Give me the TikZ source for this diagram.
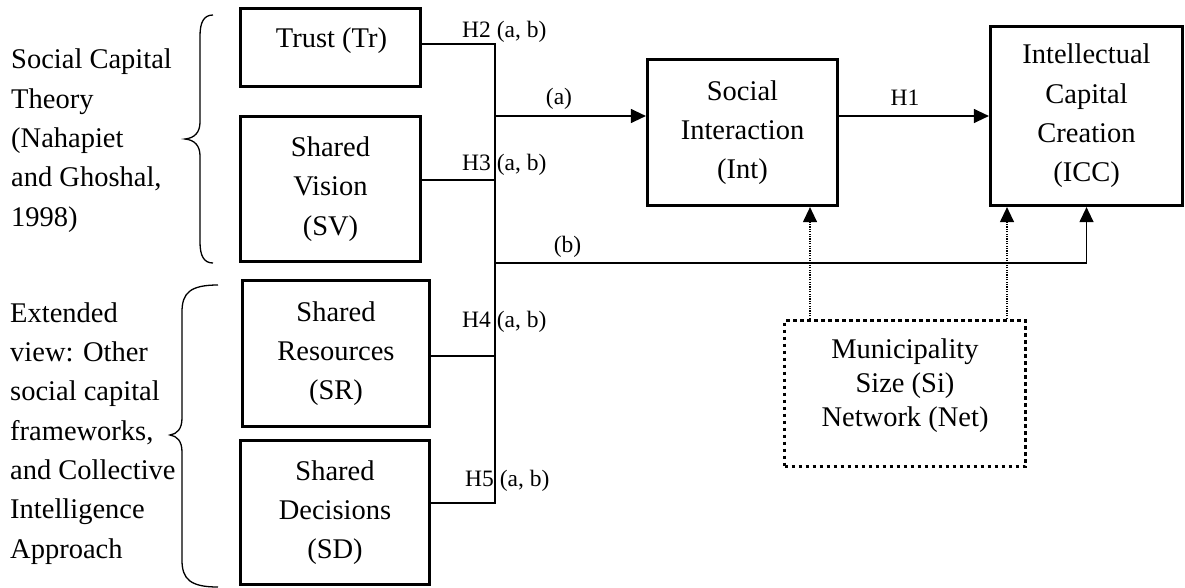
\documentclass[tikz,border=0pt]{standalone}
\usepackage{fontspec}
\setmainfont{Liberation Serif}
\usetikzlibrary{arrows.meta}
\newcommand\myBig{\fontsize{28.5}{39.3}\selectfont}
\newcommand\myMid{\fontsize{28.5}{34}\selectfont}
\newcommand\mySmall{\fontsize{23.5}{26}\selectfont}
\begin{document}
\begin{tikzpicture}[x=1pt,y=-1pt,
  box/.style={draw, line width=3.2pt, inner sep=0pt, align=center, font=\myBig},
  dotbox/.style={draw, line width=3.4pt, dash pattern=on 3.4pt off 3.6pt, inner sep=0pt},
  conn/.style={line width=1.2pt},
  arr/.style={conn, -{Triangle[length=15pt,width=14pt]}},
  dotarr/.style={line width=1.2pt, dash pattern=on 1.2pt off 1.2pt, -{Triangle[length=15pt,width=14pt]}},
  lab/.style={font=\mySmall, inner sep=0pt},
  side/.style={font=\myBig, align=left, inner sep=0pt},
  bracestyle/.style={line width=1.3pt}]
\useasboundingbox (0,0) rectangle (1185,587);

% boxes
\node[box, minimum width=180pt, minimum height=78pt] (tr) at (330.5,47.5) {};
\node[font=\myBig, anchor=base, inner sep=0pt] (trt) at (331.5,47) {Trust (Tr)};
\node[box, minimum width=180pt, minimum height=145pt] (sv) at (330.5,189) {Shared\\Vision\\(SV)};
\node[box, minimum width=187pt, minimum height=146pt] (sr) at (336,353.5) {Shared\\Resources\\(SR)};
\node[box, minimum width=189pt, minimum height=144pt] (sd) at (335,512.5) {Shared\\Decisions\\(SD)};
\node[box, minimum width=190pt, minimum height=146pt] (int) at (742.5,132.5) {Social\\Interaction\\(Int)};
\node[box, minimum width=192pt, minimum height=179pt] (icc) at (1086.5,116) {Intellectual\\Capital\\Creation\\(ICC)};
\node[dotbox, minimum width=241pt, minimum height=146pt] (muni) at (905,393.5) {};
\node[font=\myMid, align=center, anchor=base, inner sep=0pt] (munit) at (905,426) {Municipality\\Size (Si)\\Network (Net)};

% junction line
\coordinate (jt) at (495,44);
\coordinate (jb) at (495,503);
\coordinate (jsv) at (495,180);
\coordinate (jsr) at (495,356);
\coordinate (ja) at (495,116);
\coordinate (jbb) at (495,263);
\coordinate (d1) at (810,0);
\coordinate (d2) at (1007,0);

\draw[conn] (tr.east |- jt) -- (jt) -- (jb) -- (sd.east |- jb);
\draw[conn] (sv.east |- jsv) -- (jsv);
\draw[conn] (sr.east |- jsr) -- (jsr);
\draw[arr] (ja) -- (int.west |- ja);
\draw[arr] (int.east |- ja) -- (icc.west |- ja);
\draw[arr] (jbb) -| (icc.south);
\draw[dotarr] (muni.north -| d1) -- (int.south -| d1);
\draw[dotarr] (muni.north -| d2) -- (icc.south -| d2);

% labels
\node[lab, anchor=base west] (h2) at (462,37) {H2 (a, b)};
\node[lab, anchor=base west] (h3) at (462,170) {H3 (a, b)};
\node[lab, anchor=base west] (h4) at (462,327) {H4 (a, b)};
\node[lab, anchor=base west] (h5) at (465,486) {H5 (a, b)};
\node[lab, anchor=base] (la) at (559,104) {(a)};
\node[lab, anchor=base] (lb) at (567.5,252) {(b)};
\node[lab, anchor=base] (h1) at (905,105) {H1};

% side texts (base anchor = last line)
\node[side, anchor=base west] (sct) at (11,226) {Social Capital\\Theory\\(Nahapiet\\and Ghoshal,\\1998)};
\node[side, anchor=base west] (ext) at (10,558) {Extended\\view: Other\\social capital\\frameworks,\\and Collective\\Intelligence\\Approach};

% braces
\draw[bracestyle] (213,15) .. controls (204,15) and (200,22) .. (200,36) -- (200,122)
  .. controls (200,132) and (195,138) .. (185,139)
  .. controls (195,140) and (200,146) .. (200,156) -- (200,242)
  .. controls (200,256) and (204,263) .. (213,263);
\draw[bracestyle] (218,285) .. controls (190,285) and (182,293) .. (182,312) -- (182,418)
  .. controls (182,429) and (177,434) .. (170,435)
  .. controls (177,436) and (182,441) .. (182,452) -- (182,560)
  .. controls (182,579) and (190,587) .. (218,587);
\end{tikzpicture}
\end{document}
